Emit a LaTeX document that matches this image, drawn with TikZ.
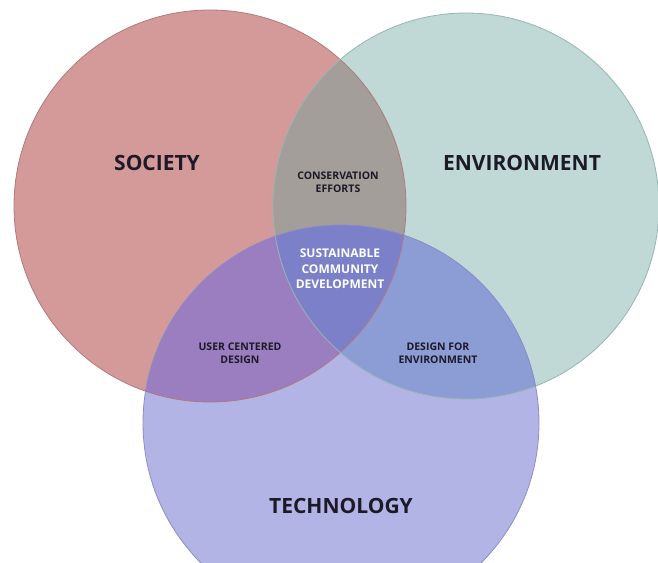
\documentclass[tikz,border=0pt]{standalone}
\usepackage{fontspec}
\setmainfont{Open Sans}
\definecolor{socC}{HTML}{D49A9A}
\definecolor{envC}{HTML}{C0D8D6}
\definecolor{tecC}{HTML}{B3B4E6}
\definecolor{seC}{HTML}{A39E9A}
\definecolor{stC}{HTML}{9B7EC0}
\definecolor{etC}{HTML}{8C9CD5}
\definecolor{allC}{HTML}{7B80C8}
\definecolor{socL}{HTML}{B07A7A}
\definecolor{envL}{HTML}{97B5B2}
\definecolor{tecL}{HTML}{8A8CC6}
\definecolor{txt}{HTML}{1C1A26}
\tikzset{
  big/.style={font=\fontsize{21}{23}\selectfont\bfseries, text=txt},
  small/.style={font=\fontsize{10.5}{12.5}\selectfont\bfseries, text=txt, align=center},
  mid/.style={font=\fontsize{12}{15.5}\selectfont\bfseries, text=white, align=center},
}
\begin{document}
\begin{tikzpicture}[x=1pt,y=-1pt]
\useasboundingbox (0,0) rectangle (658,562);
\clip (0,0) rectangle (658,562);
\def\Soc{(210,206) circle[radius=196]}
\def\Env{(466,206) circle[radius=193]}
\def\Tec{(341,423) circle[radius=198]}
\fill[socC] \Soc;
\fill[envC] \Env;
\fill[tecC] \Tec;
\begin{scope}\clip \Soc; \fill[seC] \Env; \end{scope}
\begin{scope}\clip \Soc; \fill[stC] \Tec; \end{scope}
\begin{scope}\clip \Env; \fill[etC] \Tec; \end{scope}
\begin{scope}\clip \Soc; \clip \Env; \fill[allC] \Tec; \end{scope}
\draw[socL, line width=0.8pt] \Soc;
\draw[envL, line width=0.8pt] \Env;
\draw[tecL, line width=0.8pt] \Tec;
\node[big] (soc) at (157,163) {SOCIETY};
\node[big] (env) at (522,163) {ENVIRONMENT};
\node[big] (tec) at (341,506) {TECHNOLOGY};
\node[small] (cons) at (338,182) {CONSERVATION\\EFFORTS};
\node[mid] (sus) at (340,269) {SUSTAINABLE\\COMMUNITY\\DEVELOPMENT};
\node[small] (ucd) at (240,353) {USER CENTERED\\DESIGN};
\node[small] (dfe) at (438,353) {DESIGN FOR\\ENVIRONMENT};
\end{tikzpicture}
\end{document}
